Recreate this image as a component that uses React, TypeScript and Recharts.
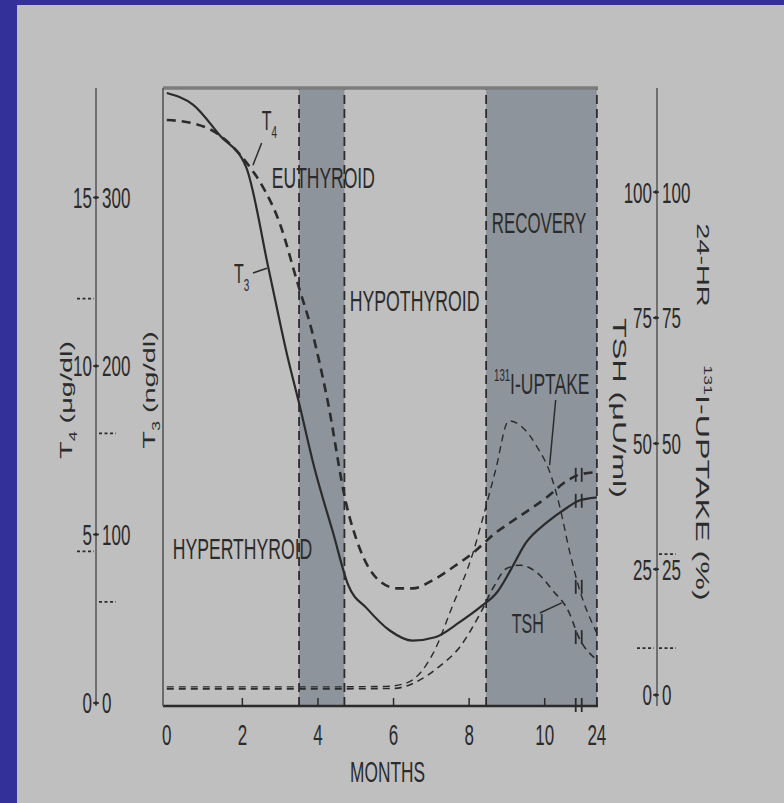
import React from 'react';
import { ComposedChart, Line, XAxis, YAxis, ReferenceArea, ReferenceLine, ReferenceDot } from 'recharts';

// ---------------- data ----------------
const t4Months = [0, 0.7, 1.4, 2.2, 2.5, 3.0, 3.45, 3.85, 4.25, 4.75, 5.1, 5.6, 6.1, 6.5, 7.05, 7.6, 8.1, 8.7, 9.15, 10.05, 10.6, 10.9, 24];
const t4Values = [17.3, 17.2, 16.85, 15.9, 15.4, 14.2, 12.5, 11.0, 9.0, 5.9, 4.6, 3.65, 3.4, 3.4, 3.65, 4.05, 4.45, 5.05, 5.4, 6.1, 6.6, 6.77, 6.85];

const t3Months = [0, 0.7, 1.4, 2.1, 2.7, 3.2, 3.5, 3.9, 4.4, 4.8, 5.3, 5.9, 6.5, 7.1, 7.75, 8.3, 8.75, 9.1, 9.5, 10.05, 10.6, 10.9, 24];
const t3Values = [362, 355, 337, 318, 257, 205, 178, 140, 101, 70, 56, 43, 37, 39, 48, 57, 66, 79, 95, 107, 116, 120, 122];

const tshMonths = [0, 2, 4, 6, 6.7, 7.2, 7.75, 8.3, 8.65, 9.0, 9.35, 9.8, 10.2, 10.65, 10.9, 24];
const tshValues = [1.2, 1.2, 1.2, 1.3, 3, 5.6, 9.5, 16.3, 21.5, 25.2, 25.8, 24.3, 20.9, 16.3, 11.5, 7];

const uptakeMonths = [0, 2, 4, 5.8, 6.35, 7.05, 7.55, 8.1, 8.35, 8.7, 9.05, 9.4, 9.8, 10.15, 10.4, 10.65, 10.9, 24];
const uptakeValues = [1.6, 1.6, 1.6, 1.7, 2.4, 8.3, 17.5, 28.2, 34.8, 44.7, 54.5, 53.3, 49.3, 44, 37.4, 28.8, 21.5, 12.3];

const xTickMonths = [0, 2, 4, 6, 8, 10, 24];
const t4Ticks = [0, 5, 10, 15];
const t3Ticks = [0, 100, 200, 300];
const tshTicks = [0, 25, 50, 75, 100];
const uptakeTicks = [0, 25, 50, 75, 100];

const t4Normal = [4.5, 12];
const t3Normal = [60, 160];
const tshNormal = [9.3];
const uptakeNormal = [9.3, 28];

const shadedFrom = [3.5, 8.45];
const shadedTo = [4.7, 24];

// ---------------- axis break (months > 10.9 compressed) ----------------
const BREAK_MONTH = 10.9;
const LAST_MONTH = 24;
const END_POS = 11.38;
const toPos = (m: number) =>
  m <= BREAK_MONTH ? m : BREAK_MONTH + ((m - BREAK_MONTH) * (END_POS - BREAK_MONTH)) / (LAST_MONTH - BREAK_MONTH);

const mk = (months: number[], values: number[]) => months.map((m, i) => ({ month: m, x: toPos(m), v: values[i] }));
const t4Data = mk(t4Months, t4Values);
const t3Data = mk(t3Months, t3Values);
const tshData = mk(tshMonths, tshValues);
const uptakeData = mk(uptakeMonths, uptakeValues);

// ---------------- styling ----------------
const INK = '#2b2b2b';
const FONT = "'Liberation Sans', Arial, Helvetica, sans-serif";
const SY = 1.7;
const BG = '#bfbfbf';
const BAND = '#8e949c';
const BLUE = '#33309a';

const X_DOMAIN: [number, number] = [-0.1, 11.41];
const T4_DOMAIN: [number, number] = [-0.09, 18.25];
const T3_DOMAIN: [number, number] = [-1.8, 365];
const PCT_DOMAIN: [number, number] = [-2.2, 120.7];

// axis ids: recharts stacks same-side axes in id order
const L_GAP = 'l1gap';
const L_T3 = 'l2t3';
const L_T4 = 'l3t4';
const R_GAP = 'r1gap';
const R_TSH = 'r2tsh';
const R_PCT = 'r3pct';

function ST({ x, y, size, anchor = 'start', rotate = 0, children }: any) {
  const transform =
    rotate === 0
      ? `translate(${x},${y}) scale(1,${SY})`
      : `translate(${x},${y}) rotate(${rotate}) scale(${SY},1)`;
  return (
    <text transform={transform} x={0} y={size * 0.36} fontSize={size} textAnchor={anchor} fill={INK} fontFamily={FONT}>
      {children}
    </text>
  );
}

const sub = (main: string, s: string, rest: string, size: number) => [
  <tspan key="a">{main}</tspan>,
  <tspan key="b" fontSize={size * 0.62} dy={size * 0.3}>{s}</tspan>,
  <tspan key="c" dy={-size * 0.3}>{rest}</tspan>,
];
const sup = (s: string, rest: string, size: number) => [
  <tspan key="a" fontSize={size * 0.55} dy={-size * 0.42}>{s}</tspan>,
  <tspan key="b" dy={size * 0.42}>{rest}</tspan>,
];

// ---------------- ticks ----------------
const makeYTick = (numbers: number[], normals: number[], side: 'left' | 'right', showMark: boolean) => (props: any) => {
  const { x, y, payload, index } = props;
  const v = payload.value;
  if (normals.includes(v) && !numbers.includes(v)) {
    const x1 = side === 'left' ? x - 19 : x + 2;
    const x2 = side === 'left' ? x - 2 : x + 19;
    return <line key={`n${index}`} x1={x1} x2={x2} y1={y} y2={y} stroke={INK} strokeWidth={1.6} strokeDasharray="3 2.5" />;
  }
  return (
    <g key={`t${index}`}>
      {showMark && <line x1={x - 3} x2={x + 3} y1={y} y2={y} stroke={INK} strokeWidth={1.5} />}
      {showMark && <circle cx={x} cy={y} r={1.8} fill={INK} />}
      <ST x={side === 'left' ? x - 4 : x + 5} y={y} size={17} anchor={side === 'left' ? 'end' : 'start'}>
        {String(v)}
      </ST>
    </g>
  );
};

const BREAK_POS = toPos(BREAK_MONTH);
const xTicks = [...xTickMonths.map(toPos), BREAK_POS];
const xTick = (props: any) => {
  const { x, y, payload, index } = props;
  const pos = payload.value;
  if (pos === BREAK_POS) {
    return (
      <g key={`xb${index}`}>
        <line x1={x - 3} x2={x - 3} y1={y - 8} y2={y + 6} stroke={INK} strokeWidth={1.8} />
        <line x1={x + 3} x2={x + 3} y1={y - 8} y2={y + 6} stroke={INK} strokeWidth={1.8} />
      </g>
    );
  }
  const i = xTickMonths.findIndex((m) => toPos(m) === pos);
  return (
    <g key={`x${index}`}>
      {i > 0 && <line x1={x} x2={x} y1={y} y2={y - 8} stroke={INK} strokeWidth={1.5} />}
      <ST x={x} y={y + 29} size={17} anchor="middle">{String(xTickMonths[i])}</ST>
    </g>
  );
};

const breakDot = (props: any) => {
  const { cx, cy, payload, index } = props;
  if (!payload || payload.month !== BREAK_MONTH) return <g key={`d${index}`} />;
  return (
    <g key={`d${index}`}>
      <line x1={cx - 3} x2={cx - 3} y1={cy - 7} y2={cy + 7} stroke={INK} strokeWidth={1.8} />
      <line x1={cx + 3} x2={cx + 3} y1={cy - 7} y2={cy + 7} stroke={INK} strokeWidth={1.8} />
    </g>
  );
};

// ---------------- annotations (data coordinates: month, T4 scale) ----------------
const annot = (key: string, m: number, v: number, size: number, content: any) => (
  <ReferenceDot
    key={key}
    yAxisId={L_T4}
    x={m}
    y={v}
    r={0}
    isFront
    ifOverflow="visible"
    shape={(p: any) => (
      <ST x={p.cx} y={p.cy} size={size}>
        {content}
      </ST>
    )}
  />
);

const leader = (key: string, m1: number, v1: number, m2: number, v2: number) => (
  <ReferenceLine
    key={key}
    yAxisId={L_T4}
    segment={[{ x: m1, y: v1 }, { x: m2, y: v2 }]}
    stroke={INK}
    strokeWidth={1.5}
    isFront
    ifOverflow="visible"
  />
);

export default function App() {
  return (
    <div style={{ position: 'absolute', left: 0, top: 0, width: 784, height: 803, background: BG, overflow: 'hidden' }}>
      <div style={{ position: 'absolute', left: 0, top: 0, width: 17, height: 803, background: BLUE }} />
      <div style={{ position: 'absolute', left: 0, top: 0, width: 784, height: 5, background: BLUE }} />
      <ComposedChart
        width={784}
        height={803}
        margin={{ top: 88, right: 17, bottom: 37, left: 17 }}
        style={{ position: 'absolute', left: 0, top: 0 }}
      >
        <XAxis
          dataKey="x"
          type="number"
          domain={X_DOMAIN}
          allowDataOverflow
          ticks={xTicks}
          interval={0}
          tickSize={0}
          tickMargin={0}
          tick={xTick}
          height={60}
          axisLine={{ stroke: INK, strokeWidth: 2.5 }}
          tickLine={false}
          label={(p: any) => {
            const vb = p.viewBox;
            return (
              <ST x={vb.x + vb.width / 2 + 7} y={vb.y + 65} size={17.3} anchor="middle">
                MONTHS
              </ST>
            );
          }}
        />
        {/* left side axes: plot border, T3 scale, T4 scale */}
        <YAxis
          yAxisId={L_GAP}
          orientation="left"
          width={66}
          type="number"
          domain={[0, 1]}
          tick={false}
          tickLine={false}
          axisLine={{ stroke: '#555', strokeWidth: 1.6 }}
          label={(p: any) => {
            const vb = p.viewBox;
            return (
              <ST x={vb.x + 52} y={vb.y + vb.height / 2 - 7} size={17} rotate={-90} anchor="middle">
                {sub('T', '3', ' (ng/dl)', 17)}
              </ST>
            );
          }}
        />
        <YAxis
          yAxisId={L_T3}
          orientation="left"
          width={1}
          type="number"
          domain={T3_DOMAIN}
          allowDataOverflow
          ticks={[...t3Ticks, ...t3Normal]}
          interval={0}
          tickSize={0}
          tickMargin={0}
          tickLine={false}
          axisLine={false}
          tick={makeYTick(t3Ticks, t3Normal, 'right', false)}
        />
        <YAxis
          yAxisId={L_T4}
          orientation="left"
          width={79}
          type="number"
          domain={T4_DOMAIN}
          allowDataOverflow
          ticks={[...t4Ticks, ...t4Normal]}
          interval={0}
          tickSize={0}
          tickMargin={0}
          tickLine={false}
          axisLine={{ stroke: '#444', strokeWidth: 1.3 }}
          tick={makeYTick(t4Ticks, t4Normal, 'left', true)}
          label={(p: any) => {
            const vb = p.viewBox;
            return (
              <ST x={vb.x + vb.width - 30} y={vb.y + vb.height / 2 + 3} size={17} rotate={-90} anchor="middle">
                {sub('T', '4', ' (μg/dl)', 17)}
              </ST>
            );
          }}
        />
        {/* right side axes */}
        <YAxis
          yAxisId={R_GAP}
          orientation="right"
          width={58}
          type="number"
          domain={[0, 1]}
          tick={false}
          tickLine={false}
          axisLine={false}
          label={(p: any) => {
            const vb = p.viewBox;
            return (
              <ST x={vb.x + 22} y={vb.y + vb.height / 2 + 11} size={19} rotate={90} anchor="middle">
                {'TSH (μU/ml)'}
              </ST>
            );
          }}
        />
        <YAxis
          yAxisId={R_TSH}
          orientation="right"
          width={1}
          type="number"
          domain={PCT_DOMAIN}
          allowDataOverflow
          ticks={[...tshTicks, ...tshNormal]}
          interval={0}
          tickSize={0}
          tickMargin={0}
          tickLine={false}
          axisLine={false}
          tick={makeYTick(tshTicks, tshNormal, 'left', true)}
        />
        <YAxis
          yAxisId={R_PCT}
          orientation="right"
          width={110}
          type="number"
          domain={PCT_DOMAIN}
          allowDataOverflow
          ticks={[...uptakeTicks, ...uptakeNormal]}
          interval={0}
          tickSize={0}
          tickMargin={0}
          tickLine={false}
          axisLine={{ stroke: '#444', strokeWidth: 1.3 }}
          tick={makeYTick(uptakeTicks, uptakeNormal, 'right', false)}
          label={(p: any) => {
            const vb = p.viewBox;
            return (
              <g>
                <ST x={vb.x + 46} y={265} size={17} rotate={90} anchor="middle">24-HR</ST>
                <ST x={vb.x + 46} y={483} size={19} rotate={90} anchor="middle">
                  {sup('131', 'I-UPTAKE (%)', 19)}
                </ST>
              </g>
            );
          }}
        />

        {shadedFrom.map((f, i) => (
          <ReferenceArea
            key={`band${i}`}
            yAxisId={L_T4}
            x1={toPos(f)}
            x2={toPos(shadedTo[i])}
            fill={BAND}
            fillOpacity={1}
            stroke="none"
            ifOverflow="visible"
          />
        ))}
        {[...shadedFrom, ...shadedTo].map((m, i) => (
          <ReferenceLine
            key={`edge${i}`}
            yAxisId={L_T4}
            x={toPos(m)}
            stroke={INK}
            strokeWidth={1.8}
            strokeDasharray="9 5"
            ifOverflow="visible"
          />
        ))}
        <ReferenceLine yAxisId={L_T4} y={T4_DOMAIN[1]} stroke="#7c7c7c" strokeWidth={3.5} ifOverflow="visible" />

        <Line
          yAxisId={R_PCT}
          data={uptakeData}
          dataKey="v"
          type="monotone"
          stroke={INK}
          strokeWidth={1.4}
          strokeDasharray="7 5"
          dot={breakDot}
          activeDot={false}
          isAnimationActive={false}
        />
        <Line
          yAxisId={R_TSH}
          data={tshData}
          dataKey="v"
          type="monotone"
          stroke={INK}
          strokeWidth={1.6}
          strokeDasharray="7 5"
          dot={breakDot}
          activeDot={false}
          isAnimationActive={false}
        />
        <Line
          yAxisId={L_T4}
          data={t4Data}
          dataKey="v"
          type="monotone"
          stroke={INK}
          strokeWidth={2.6}
          strokeDasharray="9 6"
          dot={breakDot}
          activeDot={false}
          isAnimationActive={false}
        />
        <Line
          yAxisId={L_T3}
          data={t3Data}
          dataKey="v"
          type="monotone"
          stroke={INK}
          strokeWidth={2.2}
          dot={breakDot}
          activeDot={false}
          isAnimationActive={false}
        />

        {annot('hyper', 0.16, 4.6, 17.6, 'HYPERTHYROID')}
        {annot('eu', 2.78, 15.6, 17.5, 'EUTHYROID')}
        {annot('hypo', 4.84, 11.96, 17.7, 'HYPOTHYROID')}
        {annot('rec', 8.6, 14.24, 16.9, 'RECOVERY')}
        {annot('upt', 8.66, 9.5, 17.5, sup('131', 'I-UPTAKE', 17.5))}
        {annot('tsh', 9.13, 2.37, 16, 'TSH')}
        {annot('t4', 2.51, 17.3, 16, sub('T', '4', '', 16))}
        {annot('t3', 1.78, 12.76, 16, sub('T', '3', '', 16))}
        {leader('l4', 2.51, 16.62, 2.28, 15.96)}
        {leader('l3', 2.28, 12.76, 2.65, 12.9)}
        {leader('lu', 10.29, 8.99, 10.13, 7.06)}
        {leader('lt', 9.87, 2.67, 10.45, 2.97)}
      </ComposedChart>
    </div>
  );
}
